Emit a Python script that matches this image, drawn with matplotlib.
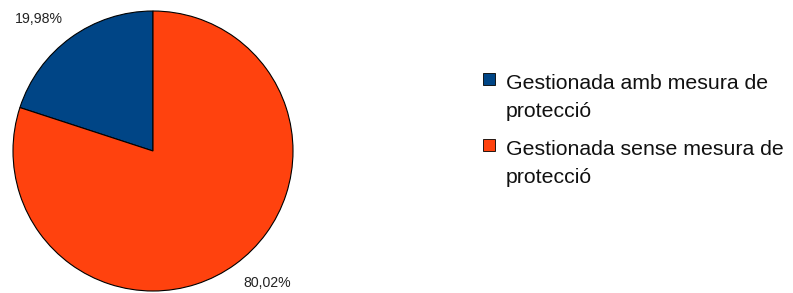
import matplotlib.pyplot as plt
from matplotlib.patches import Rectangle

plt.rcParams['font.family'] = ['Liberation Sans', 'DejaVu Sans']

labels = ['Gestionada amb mesura de\nprotecció', 'Gestionada sense mesura de\nprotecció']
values = [19.98, 80.02]
colors = ['#004586', '#ff420e']

fig = plt.figure(figsize=(7.93, 2.93), dpi=100)
ax = fig.add_axes([13 / 793, 2 / 293, 280 / 793, 280 / 293])

wedges, texts, autotexts = ax.pie(
    values, colors=colors, startangle=90, counterclock=True,
    autopct=lambda p: f'{p:.2f}%'.replace('.', ','), pctdistance=1.1,
    wedgeprops=dict(edgecolor='black', linewidth=0.8),
    textprops=dict(fontsize=10.2, color='#222222'))
# anchor each label by its inner corner, like the office chart does
for t in autotexts:
    x, y = t.get_position()
    t.set_ha('right' if x < 0 else 'left')
    t.set_va('bottom' if y > 0 else 'top')
ax.set_xlim(-1, 1)
ax.set_ylim(-1, 1)
ax.set_aspect('equal')
ax.axis('off')

# legend, drawn by hand so the square sits on the first text line
for i, (lab, col) in enumerate(zip(labels, colors)):
    top = 1 - (73 + i * 66) / 293
    fig.add_artist(Rectangle((483 / 793, top - 12 / 293), 12 / 793, 12 / 293,
                             facecolor=col, edgecolor='black', linewidth=0.6,
                             transform=fig.transFigure))
    fig.text(506 / 793, top - 1 / 293, lab, fontsize=15.3, va='top', ha='left',
             linespacing=1.62, color='#111111')

plt.savefig('out.png', dpi=100)
